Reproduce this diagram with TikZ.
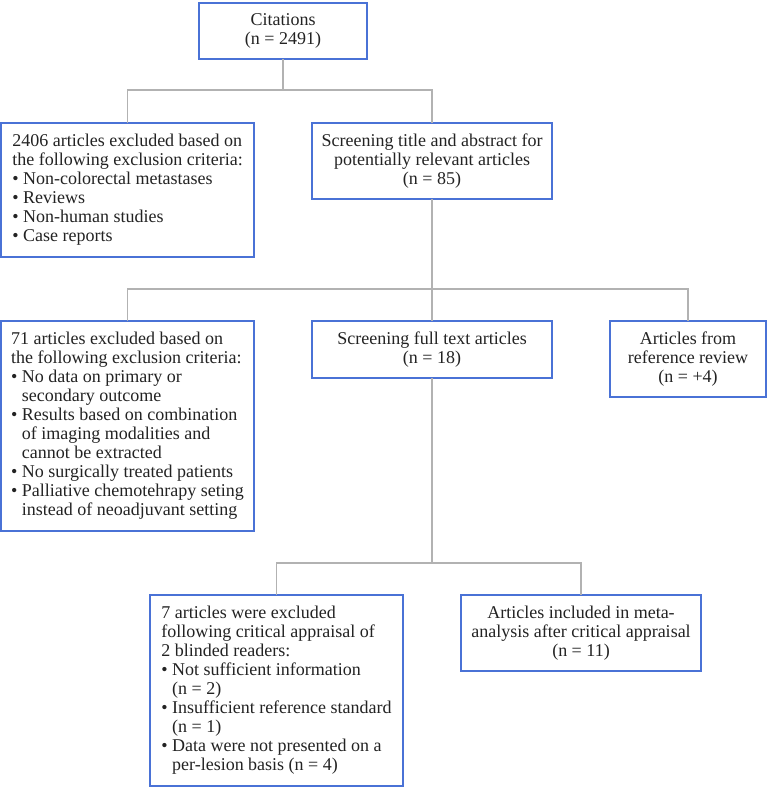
\documentclass[tikz,border=0pt]{standalone}
\usepackage{fontspec}
\setmainfont{Liberation Serif}
\usepackage{xcolor}
\usepackage{tikz}
\usetikzlibrary{positioning}

\definecolor{boxblue}{RGB}{74,114,214}
\definecolor{linegray}{RGB}{178,178,178}
\definecolor{textgray}{RGB}{35,35,35}
\newcommand{\bul}{\textbullet\ }
\newcommand{\ind}{\hphantom{\textbullet\ }}

\begin{document}
\begin{tikzpicture}[x=1pt, y=-1pt,
    box/.style={rectangle, draw=boxblue, line width=1.2pt, fill=white,
      inner sep=0pt, outer sep=0pt, text=textgray,
      font=\fontsize{18}{19}\selectfont},
    cbox/.style={box, align=center},
    lbox/.style={box, align=left},
    link/.style={draw=linegray, line width=1.3pt}]
  \useasboundingbox (0,0) rectangle (767,787);

  \node[cbox, minimum width=168, minimum height=56] (cit) at (283,31)
    {Citations\\(n = 2491)};
  \node[lbox, minimum width=253, minimum height=134] (excl_1) at (127.5,190)
    {2406 articles excluded based on\\the following exclusion criteria:\\
     \bul Non-colorectal metastases\\\bul Reviews\\\bul Non-human studies\\
     \bul Case reports};
  \node[cbox, minimum width=240, minimum height=76] (scr_1) at (432,161)
    {Screening title and abstract for\\potentially relevant articles\\(n = 85)};

  \node[lbox, minimum width=253, minimum height=210] (excl_2) at (127.5,426)
    {71 articles excluded based on\\the following exclusion criteria:\\
     \bul No data on primary or\\\ind secondary outcome\\
     \bul Results based on combination\\\ind of imaging modalities and\\
     \ind cannot be extracted\\\bul No surgically treated patients\\
     \bul Palliative chemotehrapy seting\\\ind instead of neoadjuvant setting};
  \node[cbox, minimum width=240, minimum height=57] (scr_2) at (432,349.5)
    {Screening full text articles\\(n = 18)};
  \node[cbox, minimum width=156, minimum height=76] (ref) at (688,359)
    {Articles from\\reference review\\(n = +4)};

  \node[lbox, minimum width=253, minimum height=191] (excl_3) at (276.5,690.5)
    {7 articles were excluded\\following critical appraisal of\\
     2 blinded readers:\\\bul Not sufficient information\\\ind (n = 2)\\
     \bul Insufficient reference standard\\\ind (n = 1)\\
     \bul Data were not presented on a\\\ind per-lesion basis (n = 4)};
  \node[cbox, minimum width=240, minimum height=76] (incl) at (581,633)
    {Articles included in meta-\\analysis after critical appraisal\\(n = 11)};

  \coordinate (bus_1) at (0,90);
  \coordinate (bus_2) at (0,289);
  \coordinate (bus_3) at (0,563);

  \draw[link] (cit.south) -- (cit.south |- bus_1);
  \draw[link] (excl_1.north) |- (bus_1 -| scr_1.north) -- (scr_1.north);
  \draw[link] (scr_1.south) -- (scr_2.north);
  \draw[link] (excl_2.north) |- (bus_2 -| ref.north) -- (ref.north);
  \draw[link] (scr_2.south) -- (scr_2.south |- bus_3);
  \draw[link] (excl_3.north) |- (bus_3 -| incl.north) -- (incl.north);
\end{tikzpicture}
\end{document}
